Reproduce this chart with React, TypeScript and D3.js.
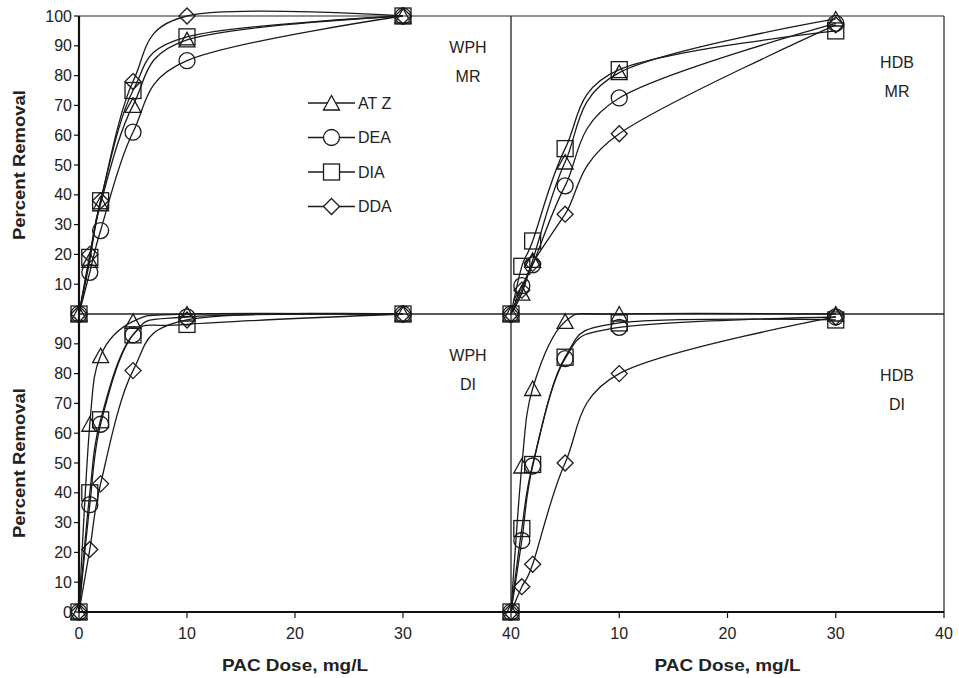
import React from 'react';
import * as d3 from 'd3';

// PAC dose (mg/L)
const doses = [0, 1, 2, 5, 10, 30];
const seriesNames = ['AT Z', 'DEA', 'DIA', 'DDA'];
const markerTypes = ['triangle', 'circle', 'square', 'diamond'];
const xTicks = [0, 10, 20, 30, 40];
const yTicksTop = [10, 20, 30, 40, 50, 60, 70, 80, 90, 100];
const yTicksBottom = [0, 10, 20, 30, 40, 50, 60, 70, 80, 90];

// WPH, MR
const wphMrATZ = [0, 18, 37, 70, 92, 100];
const wphMrDEA = [0, 14, 28, 61, 85, 100];
const wphMrDIA = [0, 19, 38, 75, 93, 100];
const wphMrDDA = [0, 20, 38, 78, 100, 100];
// HDB, MR
const hdbMrATZ = [0, 7, 18, 51, 81, 99];
const hdbMrDEA = [0, 9.5, 16.5, 43, 72.5, 97.5];
const hdbMrDIA = [0, 16, 24.5, 55.5, 82, 95];
const hdbMrDDA = [0, 8, 17, 33.5, 60.5, 97];
// WPH, DI
const wphDiATZ = [0, 63, 86, 97.5, 100, 100];
const wphDiDEA = [0, 36, 63, 93, 99, 100];
const wphDiDIA = [0, 40, 64.5, 93, 96.5, 100];
const wphDiDDA = [0, 21, 43, 81, 98, 100];
// HDB, DI
const hdbDiATZ = [0, 49, 75, 97.5, 100, 100];
const hdbDiDEA = [0, 24, 49, 85, 95.5, 99];
const hdbDiDIA = [0, 28, 49.5, 85.5, 97, 98];
const hdbDiDDA = [0, 8.5, 16, 50, 80, 99];

const FONT = '"Liberation Sans", Arial, Helvetica, sans-serif';

const L = 79, M = 511, R = 944, T = 16, H = 314, B = 612;

const xLeft = d3.scaleLinear().domain([0, 40]).range([L, M]);
const xRight = d3.scaleLinear().domain([0, 40]).range([M, R]);
const yTop = d3.scaleLinear().domain([0, 100]).range([H, T]);
const yBottom = d3.scaleLinear().domain([0, 100]).range([B, H]);

const panels = [
  { key: 'wphMR', x: xLeft, y: yTop, series: [wphMrATZ, wphMrDEA, wphMrDIA, wphMrDDA], l1: 'WPH', l2: 'MR', lx: 468, ly: 47 },
  { key: 'hdbMR', x: xRight, y: yTop, series: [hdbMrATZ, hdbMrDEA, hdbMrDIA, hdbMrDDA], l1: 'HDB', l2: 'MR', lx: 897, ly: 62 },
  { key: 'wphDI', x: xLeft, y: yBottom, series: [wphDiATZ, wphDiDEA, wphDiDIA, wphDiDDA], l1: 'WPH', l2: 'DI', lx: 468, ly: 355 },
  { key: 'hdbDI', x: xRight, y: yBottom, series: [hdbDiATZ, hdbDiDEA, hdbDiDIA, hdbDiDDA], l1: 'HDB', l2: 'DI', lx: 897, ly: 375 },
];

function Marker({ type, cx, cy, fill }: { type: string; cx: number; cy: number; fill: string }) {
  const s = 8;
  const common = { fill, stroke: '#1a1a1a', strokeWidth: 1.3 };
  if (type === 'triangle')
    return <polygon points={`${cx},${cy - 7.5} ${cx - s},${cy + 7} ${cx + s},${cy + 7}`} {...common} />;
  if (type === 'circle') return <circle cx={cx} cy={cy} r={s} {...common} />;
  if (type === 'square') return <rect x={cx - s} y={cy - s} width={2 * s} height={2 * s} {...common} />;
  return <polygon points={`${cx},${cy - s} ${cx + s},${cy} ${cx},${cy + s} ${cx - s},${cy}`} {...common} />;
}

export default function App() {
  const legendRows = [103, 137.5, 172, 206.5];
  return (
    <svg width={959} height={678} style={{ position: 'absolute', left: 0, top: 0, background: '#fff' }} fontFamily={FONT}>
      <rect x={0} y={0} width={959} height={678} fill="#fff" />
      {/* frame */}
      <line x1={L} x2={R} y1={T} y2={T} stroke="#222" strokeWidth={1.2} />
      <line x1={R} x2={R} y1={T} y2={B} stroke="#222" strokeWidth={1.2} />
      <line x1={L} x2={R} y1={H} y2={H} stroke="#222" strokeWidth={1.3} />
      <line x1={M} x2={M} y1={T} y2={B} stroke="#222" strokeWidth={1.3} />

      {/* series */}
      {panels.map((p) => (
        <g key={p.key}>
          {p.series.map((vals, si) => {
            const pts = vals.map((v, i) => [p.x(doses[i]), p.y(v)] as [number, number]);
            const path = d3.line().curve(d3.curveCardinal.tension(0))(pts) || '';
            return <path key={si} d={path} fill="none" stroke="#1a1a1a" strokeWidth={1.3} />;
          })}
          {p.series.map((vals, si) => (
            <g key={'m' + si}>
              {vals.map((v, i) => (
                <Marker key={i} type={markerTypes[si]} cx={p.x(doses[i])} cy={p.y(v)} fill="none" />
              ))}
            </g>
          ))}
          <text x={p.lx} y={p.ly} fontSize={16} textAnchor="middle" dominantBaseline="central" fill="#222">{p.l1}</text>
          <text x={p.lx} y={p.ly + 29} fontSize={16} textAnchor="middle" dominantBaseline="central" fill="#222">{p.l2}</text>
        </g>
      ))}

      {/* axes */}
      <line x1={L} x2={L} y1={T} y2={B + 1} stroke="#111" strokeWidth={2.2} />
      <line x1={L - 1} x2={R} y1={B} y2={B} stroke="#111" strokeWidth={2.2} />

      {yTicksTop.map((t) => (
        <g key={'yt' + t}>
          <line x1={L - 5} x2={L} y1={yTop(t)} y2={yTop(t)} stroke="#111" strokeWidth={1.2} />
          <text x={L - 7} y={yTop(t)} fontSize={16} textAnchor="end" dominantBaseline="central" fill="#222">{t}</text>
        </g>
      ))}
      {yTicksBottom.map((t) => (
        <g key={'yb' + t}>
          <line x1={L - 5} x2={L} y1={yBottom(t)} y2={yBottom(t)} stroke="#111" strokeWidth={1.2} />
          <text x={L - 7} y={yBottom(t)} fontSize={16} textAnchor="end" dominantBaseline="central" fill="#222">{t}</text>
        </g>
      ))}
      {xTicks.map((t) => (
        <g key={'xl' + t}>
          <line x1={xLeft(t)} x2={xLeft(t)} y1={B} y2={B + 6} stroke="#111" strokeWidth={1.2} />
          <text x={xLeft(t)} y={B + 21} fontSize={16} textAnchor="middle" dominantBaseline="central" fill="#222">{t}</text>
        </g>
      ))}
      {xTicks.filter((t) => t > 0).map((t) => (
        <g key={'xr' + t}>
          <line x1={xRight(t)} x2={xRight(t)} y1={B} y2={B + 6} stroke="#111" strokeWidth={1.2} />
          <text x={xRight(t)} y={B + 21} fontSize={16} textAnchor="middle" dominantBaseline="central" fill="#222">{t}</text>
        </g>
      ))}

      {/* axis titles */}
      <text x={(L + M) / 2} y={665} fontSize={17} fontWeight="bold" textAnchor="middle" dominantBaseline="central" fill="#222" textLength={146} lengthAdjust="spacingAndGlyphs">PAC Dose, mg/L</text>
      <text x={(M + R) / 2} y={665} fontSize={17} fontWeight="bold" textAnchor="middle" dominantBaseline="central" fill="#222" textLength={146} lengthAdjust="spacingAndGlyphs">PAC Dose, mg/L</text>
      <text transform={`translate(19,${(T + H) / 2}) rotate(-90)`} fontSize={17} fontWeight="bold" textAnchor="middle" dominantBaseline="central" fill="#222" textLength={150} lengthAdjust="spacingAndGlyphs">Percent Removal</text>
      <text transform={`translate(19,${(H + B) / 2}) rotate(-90)`} fontSize={17} fontWeight="bold" textAnchor="middle" dominantBaseline="central" fill="#222" textLength={150} lengthAdjust="spacingAndGlyphs">Percent Removal</text>

      {/* legend */}
      {seriesNames.map((n, i) => (
        <g key={'lg' + n}>
          <line x1={308} x2={355} y1={legendRows[i]} y2={legendRows[i]} stroke="#1a1a1a" strokeWidth={1.3} />
          <Marker type={markerTypes[i]} cx={331.5} cy={legendRows[i]} fill="#fff" />
          <text x={358} y={legendRows[i]} fontSize={16} dominantBaseline="central" fill="#222">{n}</text>
        </g>
      ))}
    </svg>
  );
}
